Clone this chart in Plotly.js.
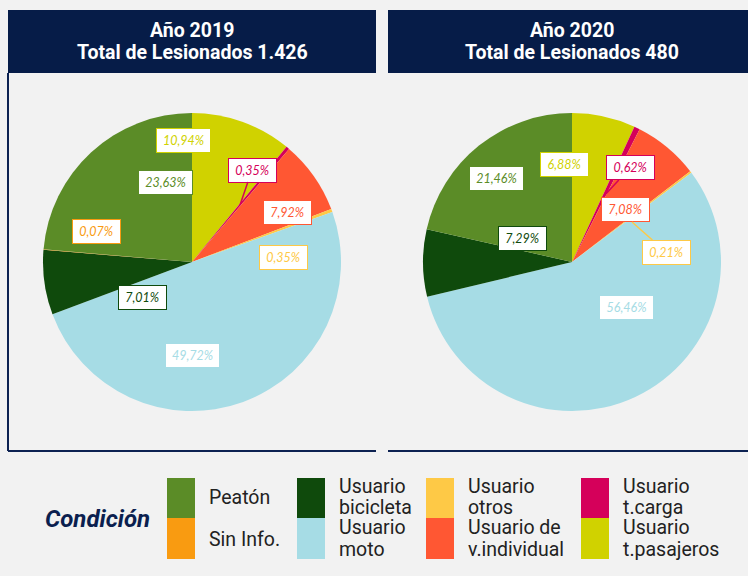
<!DOCTYPE html>
<html>
<head>
<meta charset="utf-8">
<script src="https://cdn.plot.ly/plotly-3.0.1.min.js"></script>
<style>html,body{margin:0;padding:0;background:#f2f2f2;}#chart{width:748px;height:576px;}</style>
</head>
<body>
<div id="chart"></div>
<script>
// ---- data ----
const categories = ['Usuario t.pasajeros','Usuario t.carga','Usuario de v.individual','Usuario otros','Usuario moto','Usuario bicicleta','Sin Info.','Peatón'];
const values2019 = [10.94, 0.35, 7.92, 0.35, 49.72, 7.01, 0.07, 23.63];
const values2020 = [6.88, 0.62, 7.08, 0.21, 56.46, 7.29, 0, 21.46];
const colors = ['#d0d200','#d5005a','#ff5733','#fec946','#a6dce5','#0f4a0c','#f99b11','#5b8c27'];
const titles = [['Año 2019','Total de Lesionados 1.426'],['Año 2020','Total de Lesionados 480']];
const legendTitle = 'Condición';
const legendLabels = [['Peatón'],['Sin Info.'],['Usuario','bicicleta'],['Usuario','moto'],['Usuario','otros'],['Usuario de','v.individual'],['Usuario','t.carga'],['Usuario','t.pasajeros']];
const legendOrder = [7,6,5,4,3,2,1,0]; // index into categories for each legend entry

// ---- layout helpers (positions in pixels) ----
const W = 748, H = 576;
const px = x => x / W;
const py = y => 1 - y / H;
const NAVY = '#061c48';
const pies = [{cx:192, cy:262, r:149}, {cx:572, cy:262, r:149}];
// label box centers, and optional leader-line anchor point
const labelPos2019 = [
  {x:183,y:140},{x:252,y:170,ax:240,ay:205},{x:287,y:212},{x:283,y:257},
  {x:193,y:355},{x:142,y:297},{x:96,y:231},{x:165,y:182}
];
const labelPos2020 = [
  {x:564,y:164},{x:630,y:168,ax:603,ay:197},{x:625,y:210},{x:666,y:252,ax:632,ay:222},
  {x:626,y:307},{x:522,y:238},null,{x:496,y:179}
];

function pieTrace(vals, p){
  return {
    type:'pie', values: vals, labels: categories, sort:false, direction:'clockwise',
    marker:{colors: colors, line:{width:0}}, textinfo:'none', hoverinfo:'none', showlegend:false,
    domain:{x:[px(p.cx-p.r), px(p.cx+p.r)], y:[py(p.cy+p.r), py(p.cy-p.r)]}
  };
}
const data = [pieTrace(values2019, pies[0]), pieTrace(values2020, pies[1])];

const annotations = [];
const shapes = [];

function fmt(v){ return v.toFixed(2).replace('.', ',') + '%'; }

[[values2019, labelPos2019],[values2020, labelPos2020]].forEach(([vals, pos]) => {
  vals.forEach((v, i) => {
    const p = pos[i];
    if (!p || v <= 0) return;
    const t = fmt(v);
    const a = {
      xref:'paper', yref:'paper', text:'<i>'+t+'</i>',
      font:{family:'Lato', size:12.5, color: colors[i]},
      bgcolor:'#ffffff', bordercolor: colors[i], borderwidth:1, borderpad:4,
      width: 6.5*t.length + 6, height:15, xanchor:'center', yanchor:'middle'
    };
    if (p.ax !== undefined){
      a.x = px(p.ax); a.y = py(p.ay);
      a.showarrow = true; a.arrowhead = 0; a.arrowwidth = 1.5; a.arrowcolor = colors[i];
      a.ax = p.x - p.ax; a.ay = p.y - p.ay; a.standoff = 0;
    } else {
      a.x = px(p.x); a.y = py(p.y); a.showarrow = false;
    }
    annotations.push(a);
  });
});

// headers
const headers = [{x0:8, x1:376, cx:192}, {x0:388, x1:756, cx:572}];
headers.forEach((h, k) => {
  shapes.push({type:'rect', xref:'paper', yref:'paper', x0:px(h.x0), x1:px(h.x1), y0:py(73), y1:py(10), fillcolor:NAVY, line:{width:0}, layer:'below'});
  [31, 52].forEach((yy, li) => {
    annotations.push({xref:'paper', yref:'paper', x:px(h.cx), y:py(yy), xanchor:'center', yanchor:'middle', showarrow:false,
      text:'<b>'+titles[k][li]+'</b>', font:{family:'Roboto', size:19.5, color:'#ffffff'}});
  });
});
// panel borders
const lineStyle = {color:'#0d2252', width:2};
shapes.push({type:'line', xref:'paper', yref:'paper', x0:px(8), x1:px(8), y0:py(73), y1:py(451), line:lineStyle});
shapes.push({type:'line', xref:'paper', yref:'paper', x0:px(8), x1:px(376), y0:py(451), y1:py(451), line:lineStyle});
shapes.push({type:'line', xref:'paper', yref:'paper', x0:px(388), x1:px(748), y0:py(451), y1:py(451), line:lineStyle});

// legend
annotations.push({xref:'paper', yref:'paper', x:px(43), y:py(519), xanchor:'left', yanchor:'middle', showarrow:false,
  text:'<b><i>'+legendTitle+'</i></b>', font:{family:'Roboto', size:24, color:'#0b1f4f'}});
const legCols = [{sx:167, tx:207},{sx:297, tx:337},{sx:426, tx:466},{sx:581, tx:621}];
const legRows = [{y0:478, y1:518, single:497, lines:[486,507]},{y0:518, y1:559, single:539, lines:[527,549]}];
legendOrder.forEach((ci, k) => {
  const c = legCols[Math.floor(k/2)], r = legRows[k%2];
  shapes.push({type:'rect', xref:'paper', yref:'paper', x0:px(c.sx), x1:px(c.sx+28), y0:py(r.y1), y1:py(r.y0), fillcolor:colors[ci], line:{width:0}});
  const lbl = legendLabels[k];
  const ys = lbl.length === 1 ? [r.single] : r.lines;
  lbl.forEach((s, li) => {
    annotations.push({xref:'paper', yref:'paper', x:px(c.tx), y:py(ys[li]), xanchor:'left', yanchor:'middle', align:'left', showarrow:false,
      text:s, font:{family:'Roboto', size:19.5, color:'#222222'}});
  });
});

const layout = {
  width:W, height:H, margin:{l:0,r:0,t:0,b:0},
  paper_bgcolor:'#f2f2f2', plot_bgcolor:'#f2f2f2',
  showlegend:false, shapes:shapes, annotations:annotations
};
Plotly.newPlot('chart', data, layout, {displayModeBar:false, staticPlot:true});
</script>
</body>
</html>
